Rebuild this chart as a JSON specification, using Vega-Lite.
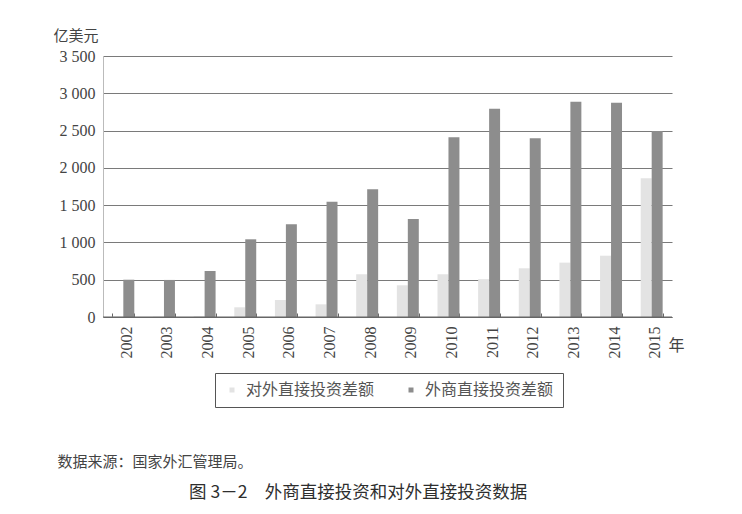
{
  "$schema": "https://vega.github.io/schema/vega-lite/v6.json",
  "width": 569,
  "height": 261,
  "autosize": {"type": "none"},
  "padding": {"left": 103, "top": 56, "right": 70, "bottom": 197},
  "background": "white",
  "config": {
    "view": {"stroke": null},
    "font": "Noto Sans CJK SC"
  },
  "title": {
    "text": "图 3－2　外商直接投资和对外直接投资数据",
    "orient": "bottom",
    "anchor": "start",
    "dx": 136,
    "offset": 15,
    "font": "Noto Sans CJK SC",
    "fontSize": 17.5,
    "fontWeight": "normal",
    "color": "#2e2e2e"
  },
  "layer": [
    {
      "data": {
        "values": [
          {"year": "2002", "series": "对外直接投资差额", "value": 5},
          {"year": "2002", "series": "外商直接投资差额", "value": 500},
          {"year": "2003", "series": "对外直接投资差额", "value": 5},
          {"year": "2003", "series": "外商直接投资差额", "value": 497},
          {"year": "2004", "series": "对外直接投资差额", "value": 10},
          {"year": "2004", "series": "外商直接投资差额", "value": 617},
          {"year": "2005", "series": "对外直接投资差额", "value": 130},
          {"year": "2005", "series": "外商直接投资差额", "value": 1042},
          {"year": "2006", "series": "对外直接投资差额", "value": 228},
          {"year": "2006", "series": "外商直接投资差额", "value": 1243},
          {"year": "2007", "series": "对外直接投资差额", "value": 170},
          {"year": "2007", "series": "外商直接投资差额", "value": 1546},
          {"year": "2008", "series": "对外直接投资差额", "value": 573},
          {"year": "2008", "series": "外商直接投资差额", "value": 1712},
          {"year": "2009", "series": "对外直接投资差额", "value": 425},
          {"year": "2009", "series": "外商直接投资差额", "value": 1314},
          {"year": "2010", "series": "对外直接投资差额", "value": 573},
          {"year": "2010", "series": "外商直接投资差额", "value": 2410},
          {"year": "2011", "series": "对外直接投资差额", "value": 507},
          {"year": "2011", "series": "外商直接投资差额", "value": 2793},
          {"year": "2012", "series": "对外直接投资差额", "value": 653},
          {"year": "2012", "series": "外商直接投资差额", "value": 2396},
          {"year": "2013", "series": "对外直接投资差额", "value": 729},
          {"year": "2013", "series": "外商直接投资差额", "value": 2887},
          {"year": "2014", "series": "对外直接投资差额", "value": 822},
          {"year": "2014", "series": "外商直接投资差额", "value": 2873},
          {"year": "2015", "series": "对外直接投资差额", "value": 1860},
          {"year": "2015", "series": "外商直接投资差额", "value": 2494}
        ]
      },
      "mark": {"type": "bar"},
      "encoding": {
        "x": {
          "field": "year",
          "type": "nominal",
          "sort": null,
          "scale": {"paddingInner": 0.46, "paddingOuter": 0.23},
          "axis": {
            "title": "数据来源：国家外汇管理局。",
            "titleFont": "Noto Sans CJK SC",
            "titleFontSize": 15,
            "titleFontWeight": "normal",
            "titleColor": "#444444",
            "titleX": -46,
            "titleY": 144,
            "titleAlign": "left",
            "titleBaseline": "middle",
            "titleAngle": 0,
            "labelAngle": 270,
            "labelFont": "Liberation Serif, Times New Roman, serif",
            "labelFontSize": 16,
            "labelColor": "#444444",
            "labelPadding": 13,
            "labelOffset": 3,
            "tickBand": "extent",
            "tickSize": -4,
            "tickColor": "#666666",
            "domainColor": "#666666",
            "domainWidth": 1.2,
            "grid": false
          }
        },
        "xOffset": {
          "field": "series",
          "type": "nominal",
          "sort": ["对外直接投资差额", "外商直接投资差额"],
          "scale": {"paddingInner": 0, "paddingOuter": 0}
        },
        "y": {
          "field": "value",
          "type": "quantitative",
          "scale": {"domain": [0, 3500], "nice": false},
          "axis": {
            "title": "亿美元",
            "titleFont": "Noto Sans CJK SC",
            "titleFontSize": 15,
            "titleFontWeight": "normal",
            "titleColor": "#444444",
            "titleAngle": 0,
            "titleX": -50,
            "titleY": -21,
            "titleAlign": "left",
            "titleBaseline": "middle",
            "values": [0, 500, 1000, 1500, 2000, 2500, 3000, 3500],
            "labelExpr": "replace(format(datum.value, ','), ',', ' ')",
            "labelFont": "Liberation Serif, Times New Roman, serif",
            "labelFontSize": 16,
            "labelColor": "#444444",
            "labelPadding": 8,
            "ticks": false,
            "domainColor": "#bbbbbb",
            "grid": true,
            "gridColor": "#7a7a7a",
            "gridWidth": 1.2
          }
        },
        "color": {
          "field": "series",
          "type": "nominal",
          "sort": ["对外直接投资差额", "外商直接投资差额"],
          "scale": {
            "domain": ["对外直接投资差额", "外商直接投资差额"],
            "range": ["#e3e3e3", "#8d8d8d"]
          },
          "legend": {
            "title": null,
            "orient": "none",
            "legendX": 112,
            "legendY": 317,
            "direction": "horizontal",
            "symbolType": "square",
            "symbolSize": 25,
            "symbolStrokeWidth": 0,
            "labelFont": "Noto Sans CJK SC",
            "labelFontSize": 16,
            "labelColor": "#555555",
            "labelOffset": 6,
            "columnPadding": 28,
            "padding": 9,
            "strokeColor": "#555555",
            "labelLimit": 300
          }
        }
      }
    },
    {
      "data": {"values": [{}]},
      "mark": {"type": "rule", "color": "#666666", "strokeWidth": 1.2},
      "encoding": {
        "y": {
          "datum": 0,
          "scale": {"domain": [0, 3500], "nice": false},
          "axis": {
            "orient": "right",
            "title": "年",
            "titleFont": "Noto Sans CJK SC",
            "titleFontSize": 16,
            "titleFontWeight": "normal",
            "titleColor": "#444444",
            "titleAngle": 0,
            "titleX": 4,
            "titleY": 289,
            "titleAlign": "center",
            "titleBaseline": "middle",
            "labels": false,
            "ticks": false,
            "domain": false,
            "grid": false
          }
        }
      }
    }
  ],
  "resolve": {"scale": {"y": "independent"}, "axis": {"y": "independent"}}
}
